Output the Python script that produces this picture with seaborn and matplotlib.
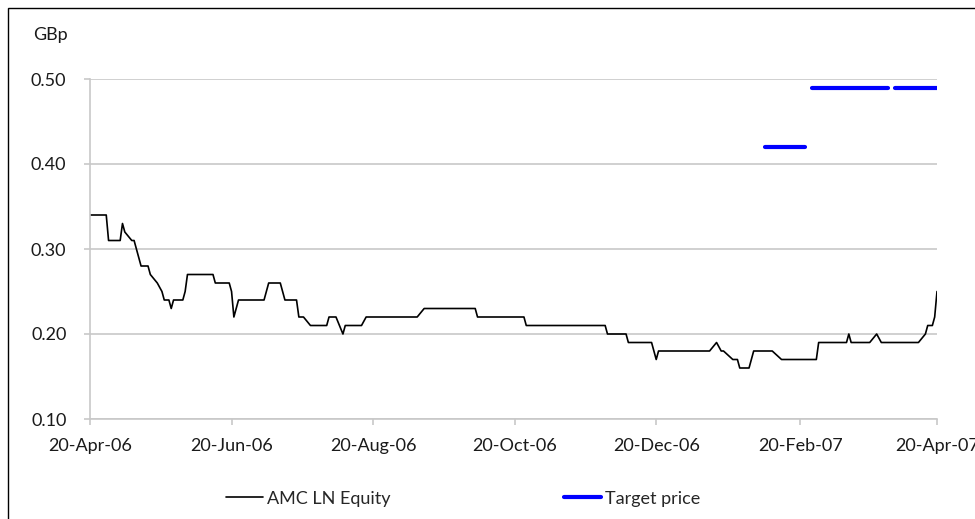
import pandas as pd
import matplotlib
matplotlib.use("Agg")
import matplotlib.pyplot as plt
import matplotlib.dates as mdates
from matplotlib.patches import Rectangle
import seaborn as sns

# AMC LN Equity closing price (GBp), turning points
price_dates = [
    "2006-04-20", "2006-04-27", "2006-04-28", "2006-05-03", "2006-05-04", "2006-05-05",
    "2006-05-08", "2006-05-09", "2006-05-11", "2006-05-12", "2006-05-15", "2006-05-16",
    "2006-05-19", "2006-05-21", "2006-05-22", "2006-05-24", "2006-05-25", "2006-05-26",
    "2006-05-30", "2006-05-31", "2006-06-01", "2006-06-12", "2006-06-13", "2006-06-19",
    "2006-06-20", "2006-06-21", "2006-06-22", "2006-06-23", "2006-07-04", "2006-07-06",
    "2006-07-11", "2006-07-12", "2006-07-13", "2006-07-18", "2006-07-19", "2006-07-21",
    "2006-07-24", "2006-07-31", "2006-08-01", "2006-08-04", "2006-08-07", "2006-08-08",
    "2006-08-15", "2006-08-17", "2006-09-08", "2006-09-11", "2006-10-03", "2006-10-04",
    "2006-10-24", "2006-10-25", "2006-11-28", "2006-11-29", "2006-12-07", "2006-12-08",
    "2006-12-18", "2006-12-20", "2006-12-21", "2007-01-12", "2007-01-15", "2007-01-17",
    "2007-01-18", "2007-01-22", "2007-01-24", "2007-01-25", "2007-01-29", "2007-01-30",
    "2007-01-31", "2007-02-08", "2007-02-12", "2007-02-27", "2007-02-28", "2007-03-12",
    "2007-03-13", "2007-03-14", "2007-03-22", "2007-03-25", "2007-03-27", "2007-04-12",
    "2007-04-15", "2007-04-16", "2007-04-18", "2007-04-19", "2007-04-20",
]
price_values = [
    0.34, 0.34, 0.31, 0.31, 0.33, 0.32,
    0.31, 0.31, 0.29, 0.28, 0.28, 0.27,
    0.26, 0.25, 0.24, 0.24, 0.23, 0.24,
    0.24, 0.25, 0.27, 0.27, 0.26, 0.26,
    0.25, 0.22, 0.23, 0.24, 0.24, 0.26,
    0.26, 0.25, 0.24, 0.24, 0.22, 0.22,
    0.21, 0.21, 0.22, 0.22, 0.20, 0.21,
    0.21, 0.22, 0.22, 0.23, 0.23, 0.22,
    0.22, 0.21, 0.21, 0.20, 0.20, 0.19,
    0.19, 0.17, 0.18, 0.18, 0.19, 0.18,
    0.18, 0.17, 0.17, 0.16, 0.16, 0.17,
    0.18, 0.18, 0.17, 0.17, 0.19, 0.19,
    0.20, 0.19, 0.19, 0.20, 0.19, 0.19,
    0.20, 0.21, 0.21, 0.22, 0.25,
]

# target price segments
target_start = ["2007-02-05", "2007-02-25", "2007-04-02"]
target_end = ["2007-02-22", "2007-03-30", "2007-04-20"]
target_value = [0.42, 0.49, 0.49]

y_ticks = [0.10, 0.20, 0.30, 0.40, 0.50]
x_ticks = ["2006-04-20", "2006-06-20", "2006-08-20", "2006-10-20",
           "2006-12-20", "2007-02-20", "2007-04-20"]

sns.set_style("white")
plt.rcParams["font.family"] = ["Lato", "DejaVu Sans"]
plt.rcParams["font.size"] = 13

price = pd.DataFrame({"date": pd.to_datetime(price_dates), "price": price_values})

fig = plt.figure(figsize=(9.75, 5.19), dpi=100)
ax = fig.add_axes([90 / 975, 1 - 419 / 519, 847 / 975, 340 / 519])

sns.lineplot(data=price, x="date", y="price", ax=ax, color="black",
             linewidth=1.2, label="AMC LN Equity")

for i in range(len(target_value)):
    seg = pd.DataFrame({"date": pd.to_datetime([target_start[i], target_end[i]]),
                        "price": [target_value[i], target_value[i]]})
    sns.lineplot(data=seg, x="date", y="price", ax=ax, color="#0000ff",
                 linewidth=3, solid_capstyle="round",
                 label="Target price" if i == 0 else None)

ax.set_ylim(0.10, 0.50)
ax.set_xlim(pd.Timestamp(x_ticks[0]), pd.Timestamp(x_ticks[-1]))
ax.set_yticks(y_ticks)
ax.set_yticklabels([f"{v:.2f}" for v in y_ticks])
ax.set_xticks(pd.to_datetime(x_ticks))
ax.xaxis.set_major_formatter(mdates.DateFormatter("%d-%b-%y"))
ax.set_xlabel("")
ax.set_ylabel("")

grid_col = "#c8c8c8"
ax.yaxis.grid(True, color=grid_col, linewidth=1.2)
ax.xaxis.grid(False)
for s in ["top", "right"]:
    ax.spines[s].set_visible(False)
for s in ["left", "bottom"]:
    ax.spines[s].set_color(grid_col)
    ax.spines[s].set_linewidth(1.2)
ax.tick_params(axis="both", colors=grid_col, length=4, width=1.2, labelcolor="#1a1a1a")
ax.tick_params(axis="y", pad=13, left=True)
ax.tick_params(axis="x", pad=10, bottom=True)
ax.set_axisbelow(True)

ax.get_legend().remove()
handles, labels = ax.get_legend_handles_labels()
fig.legend(handles, labels, loc="center", bbox_to_anchor=(0.475, 0.039), ncol=2,
           frameon=False, handlelength=2.05, handletextpad=0.25, columnspacing=9.6,
           fontsize=13)

fig.text(33 / 975, 1 - 35 / 519, "GBp", ha="left", va="center", fontsize=13, color="#1a1a1a")

fig.patches.append(Rectangle((7.5 / 975, -0.2), 1.5, 1.2 - 7.5 / 519, transform=fig.transFigure,
                             fill=False, edgecolor="black", linewidth=1.0))

fig.savefig("out.png", dpi=100)
